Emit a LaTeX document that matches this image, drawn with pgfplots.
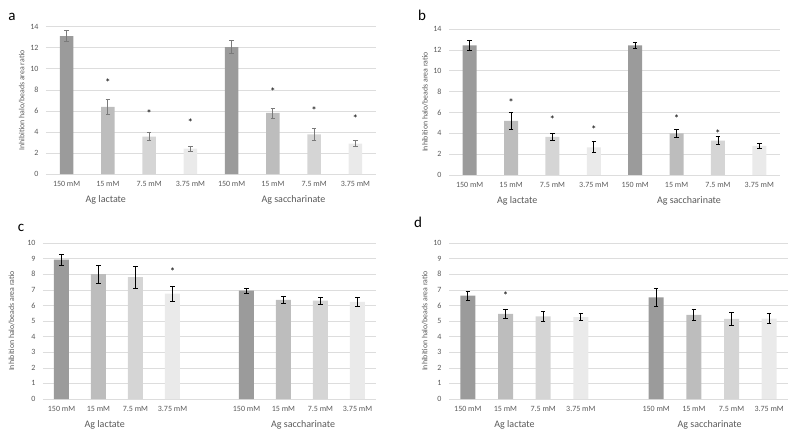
\documentclass[border=0pt]{standalone}
\usepackage{fontspec}
\setmainfont{Carlito}
\usepackage{pgfplots}
\pgfplotsset{compat=1.18}
\definecolor{cA}{HTML}{9B9B9B}
\definecolor{cB}{HTML}{BDBDBD}
\definecolor{cC}{HTML}{D5D5D5}
\definecolor{cD}{HTML}{EAEAEA}
\definecolor{tg}{HTML}{595959}
\definecolor{gridc}{HTML}{DDDDDD}
\definecolor{ebgray}{HTML}{7A7A7A}
\pgfplotsset{
  panel/.style={
    scale only axis, clip=false,
    axis x line*=bottom, axis y line*=left,
    y axis line style={draw=none},
    x axis line style={draw=gridc, line width=0.7pt},
    tick style={draw=none}, major tick length=0pt,
    ymajorgrids, grid style={draw=gridc, line width=0.6pt},
    ymin=0,
    tick label style={font=\fontsize{8}{9}\selectfont, text=tg},
    yticklabel style={xshift=-4pt},
    xticklabel style={yshift=-4pt},
    /pgf/number format/assume math mode=true,
    ylabel={Inhibition halo/beads area ratio},
    ylabel style={font=\fontsize{7.8}{8}\selectfont, text=tg, anchor=center},
  },
  bars/.style 2 args={ybar, bar width=#2, bar shift=0pt, fill=#1, draw=none,
    error bars/.cd, y dir=both, y explicit, error mark=|,
    error bar style={draw=ebc, line width=0.75pt},
    error mark options={draw=ebc, mark size=2.3pt, line width=0.75pt}},
  stars/.style={draw=none, mark=none, nodes near coords={*},
    every node near coord/.style={anchor=center, yshift=-2pt, text=black, font=\fontsize{11}{11}\selectfont}},
}
\tikzset{glabel/.style={font=\fontsize{10}{11}\selectfont, text=tg, yshift=-26pt}}
\begin{document}
\begin{tikzpicture}
\useasboundingbox (0pt,0pt) rectangle (795pt,437pt);
\node[font=\fontsize{15}{16}\selectfont] at (12pt,420pt) {a};
\node[font=\fontsize{15}{16}\selectfont] at (422pt,422pt) {b};
\node[font=\fontsize{15}{16}\selectfont] at (21pt,209pt) {c};
\node[font=\fontsize{15}{16}\selectfont] at (418pt,215pt) {d};

% ---------- panel a ----------
\colorlet{ebc}{ebgray}
\begin{axis}[panel, at={(46pt,263pt)}, anchor=south west, width=330pt, height=147.3pt,
  ymax=14, ytick={0,2,...,14}, xmin=-0.5, xmax=7.5, xtick={0,...,7},
  xticklabels={150 mM,15 mM,7.5 mM,3.75 mM,150 mM,15 mM,7.5 mM,3.75 mM},
  ylabel style={at={(axis description cs:-0.073,0.5)}}]
\addplot[bars={cA}{13.5pt}] coordinates {(0,13.11) +- (0,0.5) (4,12.07) +- (0,0.63)};
\addplot[bars={cB}{13.5pt}] coordinates {(1,6.37) +- (0,0.7) (5,5.8) +- (0,0.47)};
\addplot[bars={cC}{13.5pt}] coordinates {(2,3.55) +- (0,0.4) (6,3.77) +- (0,0.6)};
\addplot[bars={cD}{13.5pt}] coordinates {(3,2.4) +- (0,0.25) (7,2.88) +- (0,0.3)};
\addplot[stars] coordinates {(1,8.84) (2,5.9) (3,5.07) (5,7.98) (6,6.18) (7,5.42)};
\node[glabel] at (axis cs:0.95,0) {Ag lactate};
\node[glabel] at (axis cs:5.5,0) {Ag saccharinate};
\end{axis}

% ---------- panel b ----------
\colorlet{ebc}{black}
\begin{axis}[panel, at={(449pt,262pt)}, anchor=south west, width=331pt, height=146pt,
  ymax=14, ytick={0,2,...,14}, xmin=-0.5, xmax=7.5, xtick={0,...,7},
  xticklabels={150 mM,15 mM,7.5 mM,3.75 mM,150 mM,15 mM,7.5 mM,3.75 mM},
  ylabel style={at={(axis description cs:-0.0725,0.5)}}]
\addplot[bars={cA}{14pt}] coordinates {(0,12.43) +- (0,0.52) (4,12.43) +- (0,0.27)};
\addplot[bars={cB}{14pt}] coordinates {(1,5.19) +- (0,0.83) (5,4.0) +- (0,0.38)};
\addplot[bars={cC}{14pt}] coordinates {(2,3.65) +- (0,0.35) (6,3.3) +- (0,0.4)};
\addplot[bars={cD}{14pt}] coordinates {(3,2.66) +- (0,0.52) (7,2.79) +- (0,0.28)};
\addplot[stars] coordinates {(1,7.11) (2,5.48) (3,4.55) (5,5.6) (6,4.17)};
\node[glabel] at (axis cs:1.15,0) {Ag lactate};
\node[glabel] at (axis cs:5.3,0) {Ag saccharinate};
\end{axis}

% ---------- panel c ----------
\begin{axis}[panel, at={(43pt,38pt)}, anchor=south west, width=333pt, height=156pt,
  ymax=10, ytick={0,1,...,10}, xmin=-0.5, xmax=8.5, xtick={0,1,2,3,5,6,7,8},
  xticklabels={150 mM,15 mM,7.5 mM,3.75 mM,150 mM,15 mM,7.5 mM,3.75 mM},
  ylabel style={at={(axis description cs:-0.094,0.5)}}]
\addplot[bars={cA}{15pt}] coordinates {(0,8.93) +- (0,0.36) (5,6.94) +- (0,0.18)};
\addplot[bars={cB}{15pt}] coordinates {(1,8.0) +- (0,0.58) (6,6.36) +- (0,0.23)};
\addplot[bars={cC}{15pt}] coordinates {(2,7.82) +- (0,0.71) (7,6.3) +- (0,0.21)};
\addplot[bars={cD}{15pt}] coordinates {(3,6.75) +- (0,0.46) (8,6.23) +- (0,0.27)};
\addplot[stars] coordinates {(3,8.29)};
\node[glabel] at (axis cs:1.17,0) {Ag lactate};
\node[glabel] at (axis cs:6.53,0) {Ag saccharinate};
\end{axis}

% ---------- panel d ----------
\begin{axis}[panel, at={(449pt,38pt)}, anchor=south west, width=339pt, height=156pt,
  ymax=10, ytick={0,1,...,10}, xmin=-0.5, xmax=8.5, xtick={0,1,2,3,5,6,7,8},
  xticklabels={150 mM,15 mM,7.5 mM,3.75 mM,150 mM,15 mM,7.5 mM,3.75 mM},
  ylabel style={at={(axis description cs:-0.071,0.5)}}]
\addplot[bars={cA}{15pt}] coordinates {(0,6.62) +- (0,0.29) (5,6.51) +- (0,0.59)};
\addplot[bars={cB}{15pt}] coordinates {(1,5.46) +- (0,0.29) (6,5.4) +- (0,0.37)};
\addplot[bars={cC}{15pt}] coordinates {(2,5.29) +- (0,0.31) (7,5.14) +- (0,0.41)};
\addplot[bars={cD}{15pt}] coordinates {(3,5.25) +- (0,0.22) (8,5.16) +- (0,0.34)};
\addplot[stars] coordinates {(1,6.75)};
\node[glabel] at (axis cs:1.24,0) {Ag lactate};
\node[glabel] at (axis cs:6.42,0) {Ag saccharinate};
\end{axis}
\end{tikzpicture}
\end{document}
